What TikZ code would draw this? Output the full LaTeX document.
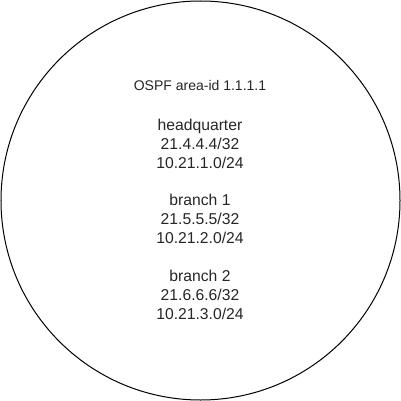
\documentclass[tikz,border=0pt]{standalone}
\usepackage{fontspec}
\setmainfont{Liberation Sans}
\begin{document}
\begin{tikzpicture}[x=1pt,y=-1pt,
  area/.style={draw=black,line width=1pt,circle,minimum size=399pt,inner sep=0pt},
  smalltxt/.style={anchor=base,inner sep=0pt,font=\fontsize{14}{16}\selectfont,text=black!85},
  bigtxt/.style={anchor=base,inner sep=0pt,font=\fontsize{15.7}{19}\selectfont,text=black!85}]
\useasboundingbox (0,0) rectangle (401,401);
\node[area] (circ) at (200.5,200.5) {};
\node[smalltxt] (title) at (200,90.7) {OSPF area-id 1.1.1.1};
\node[bigtxt] (hq1) at (200,130.5) {headquarter};
\node[bigtxt] (hq2) at (200,149.35) {21.4.4.4/32};
\node[bigtxt] (hq3) at (200,168.2) {10.21.1.0/24};
\node[bigtxt] (b11) at (200,205.9) {branch 1};
\node[bigtxt] (b12) at (200,224.8) {21.5.5.5/32};
\node[bigtxt] (b13) at (200,243.6) {10.21.2.0/24};
\node[bigtxt] (b21) at (200,281.3) {branch 2};
\node[bigtxt] (b22) at (200,300.2) {21.6.6.6/32};
\node[bigtxt] (b23) at (200,319) {10.21.3.0/24};
\end{tikzpicture}
\end{document}
